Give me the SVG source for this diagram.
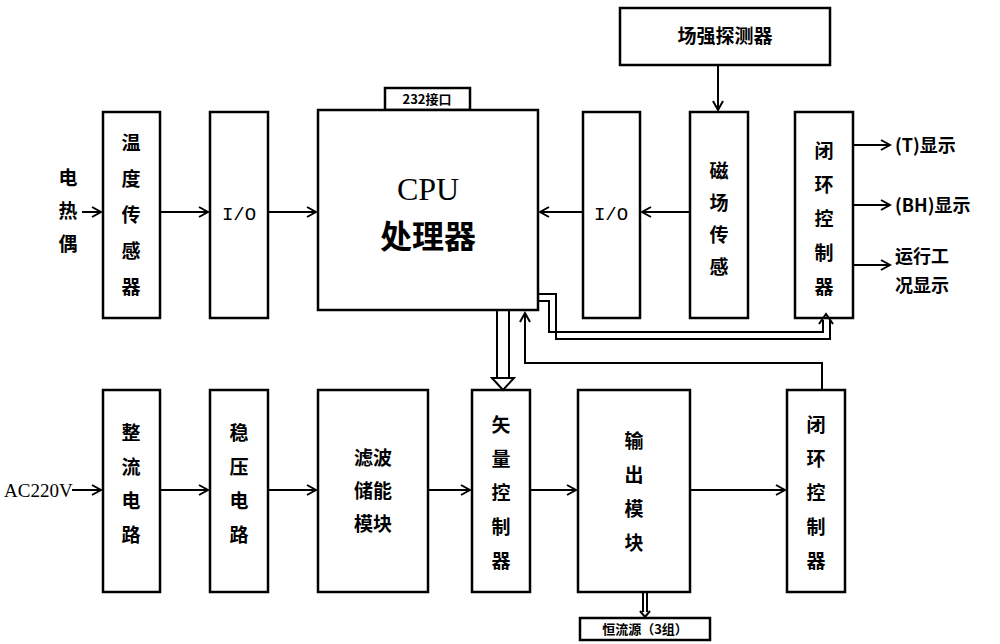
<svg xmlns="http://www.w3.org/2000/svg" width="1000" height="644" viewBox="0 0 1000 644">
<style>
.b{fill:#fff;stroke:#000;stroke-width:2.5}
.l{fill:none;stroke:#000;stroke-width:2}
text{font-family:"Noto Sans CJK SC","Liberation Serif",serif;font-weight:bold;fill:#000}
.t{font-size:19px;text-anchor:middle}
.s{font-size:13px;text-anchor:middle}
</style>
<defs><marker id="a" markerWidth="12" markerHeight="12" refX="10" refY="6" orient="auto" markerUnits="userSpaceOnUse"><path d="M1,1 L10,6 L1,11" fill="none" stroke="#000" stroke-width="2"/></marker></defs>
<rect width="1000" height="644" fill="#fff"/>
<g id="n1"><rect class="b" x="620" y="8" width="210" height="57"/><text class="t" x="725" y="43">场强探测器</text></g>
<g id="n2"><rect class="b" x="385" y="88" width="85" height="22"/><text class="s" x="427" y="104">232接口</text></g>
<g id="n3"><rect class="b" x="318" y="110" width="220" height="200"/><text class="t" x="428" y="200" style="font-size:32px;font-family:'Liberation Serif',serif;font-weight:normal">CPU</text><text class="t" x="428" y="248" style="font-size:32px">处理器</text></g>
<g id="n4"><rect class="b" x="103" y="112" width="57" height="206"/><text class="t" x="131" y="150">温</text><text class="t" x="131" y="186">度</text><text class="t" x="131" y="222">传</text><text class="t" x="131" y="258">感</text><text class="t" x="131" y="294">器</text></g>
<g id="n5"><rect class="b" x="210" y="112" width="58" height="206"/><text class="t" x="239" y="220" style="font-family:'Liberation Mono',monospace;font-weight:normal">I/O</text></g>
<g id="n6"><rect class="b" x="583" y="112" width="57" height="206"/><text class="t" x="611" y="220" style="font-family:'Liberation Mono',monospace;font-weight:normal">I/O</text></g>
<g id="n7"><rect class="b" x="690" y="112" width="58" height="206"/><text class="t" x="719" y="178">磁</text><text class="t" x="719" y="210">场</text><text class="t" x="719" y="242">传</text><text class="t" x="719" y="274">感</text></g>
<g id="n8"><rect class="b" x="795" y="112" width="58" height="206"/><text class="t" x="824" y="158">闭</text><text class="t" x="824" y="192">环</text><text class="t" x="824" y="226">控</text><text class="t" x="824" y="260">制</text><text class="t" x="824" y="294">器</text></g>
<g id="n9"><rect class="b" x="103" y="390" width="57" height="202"/><text class="t" x="131" y="440">整</text><text class="t" x="131" y="474">流</text><text class="t" x="131" y="508">电</text><text class="t" x="131" y="542">路</text></g>
<g id="n10"><rect class="b" x="210" y="390" width="58" height="202"/><text class="t" x="239" y="440">稳</text><text class="t" x="239" y="474">压</text><text class="t" x="239" y="508">电</text><text class="t" x="239" y="542">路</text></g>
<g id="n11"><rect class="b" x="318" y="390" width="110" height="202"/><text class="t" x="373" y="465">滤波</text><text class="t" x="373" y="498">储能</text><text class="t" x="373" y="531">模块</text></g>
<g id="n12"><rect class="b" x="472" y="390" width="58" height="202"/><text class="t" x="501" y="432">矢</text><text class="t" x="501" y="466">量</text><text class="t" x="501" y="500">控</text><text class="t" x="501" y="534">制</text><text class="t" x="501" y="568">器</text></g>
<g id="n13"><rect class="b" x="578" y="390" width="112" height="202"/><text class="t" x="634" y="448">输</text><text class="t" x="634" y="482">出</text><text class="t" x="634" y="516">模</text><text class="t" x="634" y="550">块</text></g>
<g id="n14"><rect class="b" x="787" y="390" width="58" height="202"/><text class="t" x="816" y="432">闭</text><text class="t" x="816" y="466">环</text><text class="t" x="816" y="500">控</text><text class="t" x="816" y="534">制</text><text class="t" x="816" y="568">器</text></g>
<g id="n15"><rect class="b" x="580" y="618" width="130" height="22"/><text class="s" x="645" y="634">恒流源（3组）</text></g>
<g id="labels">
<text class="t" x="68" y="185">电</text><text class="t" x="68" y="218">热</text><text class="t" x="68" y="251">偶</text>
<text x="4" y="497" style="font-size:19px;font-family:'Liberation Serif',serif;font-weight:normal">AC220V</text>
<text x="895" y="152" style="font-size:18px">(T)显示</text>
<text x="895" y="212" style="font-size:18px">(BH)显示</text>
<text x="895" y="263" style="font-size:18px">运行工</text>
<text x="895" y="292" style="font-size:18px">况显示</text>
</g>
<g id="connectors">
<line class="l" x1="82" y1="212" x2="101" y2="212" marker-end="url(#a)"/>
<line class="l" x1="160" y1="212" x2="208" y2="212" marker-end="url(#a)"/>
<line class="l" x1="268" y1="212" x2="316" y2="212" marker-end="url(#a)"/>
<line class="l" x1="583" y1="212" x2="540" y2="212" marker-end="url(#a)"/>
<line class="l" x1="690" y1="212" x2="642" y2="212" marker-end="url(#a)"/>
<line class="l" x1="718" y1="65" x2="718" y2="110" marker-end="url(#a)"/>
<line class="l" x1="853" y1="145" x2="890" y2="145" marker-end="url(#a)"/>
<line class="l" x1="853" y1="205" x2="890" y2="205" marker-end="url(#a)"/>
<line class="l" x1="853" y1="265" x2="890" y2="265" marker-end="url(#a)"/>
<path class="l" d="M538,294 H556 V339 H830 V320"/>
<path class="l" d="M538,301 H549 V332 H823 V320"/>
<path d="M819,324 L826,314 L833,324" fill="none" stroke="#000" stroke-width="2"/>
<path class="l" d="M822,390 V363 H525 V313" marker-end="url(#a)"/>
<path class="l" d="M497,310 V378 M509,310 V378"/>
<path d="M492,378 L503,390 L514,378 Z" fill="#fff" stroke="#000" stroke-width="2"/>
<line class="l" x1="72" y1="490" x2="101" y2="490" marker-end="url(#a)"/>
<line class="l" x1="160" y1="490" x2="208" y2="490" marker-end="url(#a)"/>
<line class="l" x1="268" y1="490" x2="316" y2="490" marker-end="url(#a)"/>
<line class="l" x1="428" y1="490" x2="470" y2="490" marker-end="url(#a)"/>
<line class="l" x1="530" y1="490" x2="576" y2="490" marker-end="url(#a)"/>
<line class="l" x1="690" y1="490" x2="785" y2="490" marker-end="url(#a)"/>
<path class="l" d="M643,592 V612 M647,592 V612 M640,611 L645,617 L650,611"/>
</g>
</svg>
